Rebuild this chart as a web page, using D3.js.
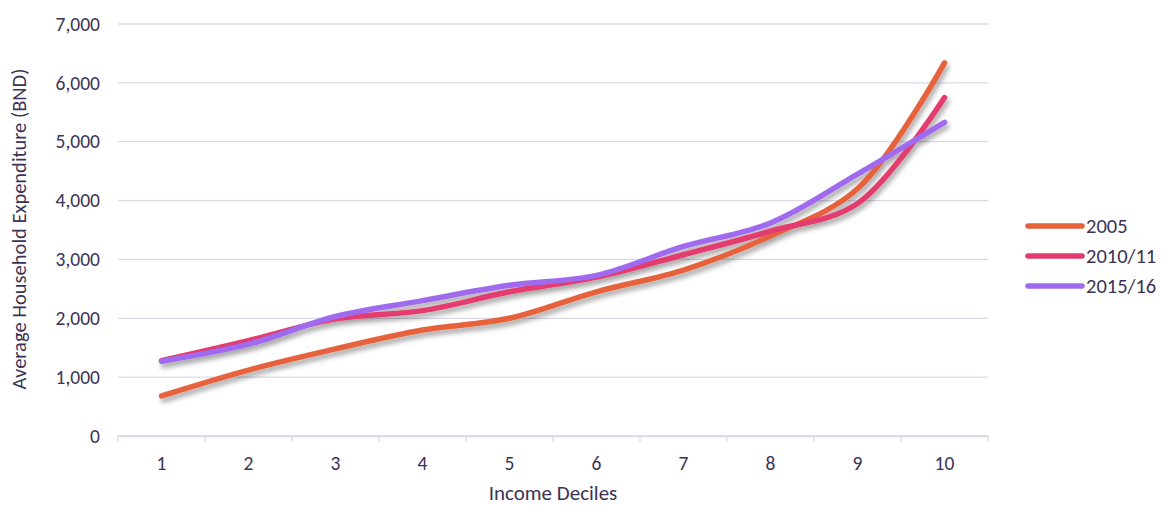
<!DOCTYPE html>
<html><head><meta charset="utf-8">
<script src="https://cdn.jsdelivr.net/npm/d3@7"></script>
<style>body{margin:0;background:#fff}svg{font-family:Carlito,Lato,"Open Sans",sans-serif}</style>
</head><body><svg id="c" width="1161" height="505"></svg>
<script>
const deciles = ["1","2","3","4","5","6","7","8","9","10"];
const s2005 = [680, 1120, 1480, 1800, 2000, 2450, 2820, 3400, 4200, 6340];
const s2010 = [1280, 1620, 1990, 2130, 2450, 2700, 3080, 3480, 3950, 5750];
const s2015 = [1270, 1560, 2030, 2300, 2560, 2730, 3220, 3620, 4450, 5330];
const seriesNames = ["2005", "2010/11", "2015/16"];
const colors = ["#E5623D", "#E23C6E", "#A06BEE"];
const yTicks = [0,1000,2000,3000,4000,5000,6000,7000];

const svg = d3.select("#c");
const L=118, R=988, T=24, B=436;
const x = d3.scaleBand().domain(deciles).range([L,R]);
const y = d3.scaleLinear().domain([0,7000]).range([B,T]);
const textColor = "#3b3355";
const FF = "Carlito, Lato, sans-serif";

const defs = svg.append("defs");
const f = defs.append("filter").attr("id","sh").attr("x","-10%").attr("y","-10%").attr("width","130%").attr("height","140%");
f.append("feDropShadow").attr("dx",2).attr("dy",4).attr("stdDeviation",2.5).attr("flood-color","#000").attr("flood-opacity",0.35);

// grid
svg.append("g").selectAll("line").data(yTicks).join("line")
  .attr("x1",L).attr("x2",R).attr("y1",d=>y(d)).attr("y2",d=>y(d))
  .attr("stroke","#dcd8e8").attr("stroke-width",1.3);

// y axis
const ya = svg.append("g").attr("transform",`translate(${L},0)`)
  .call(d3.axisLeft(y).tickValues(yTicks).tickFormat(d3.format(",")).tickSize(0).tickPadding(18))
  .attr("font-family",FF).attr("font-size",19.5);
ya.select(".domain").remove();
ya.selectAll("text").attr("fill",textColor);

// x axis
const xa = svg.append("g").attr("transform",`translate(0,${B})`)
  .call(d3.axisBottom(x).tickSize(0).tickPadding(20))
  .attr("font-family",FF).attr("font-size",19.5);
xa.select(".domain").attr("stroke","#dcd8e8").attr("stroke-width",1.3);
xa.selectAll("text").attr("fill",textColor);
const edges = deciles.map(d=>x(d)).concat([R]);
svg.append("g").selectAll("line").data(edges).join("line")
  .attr("x1",d=>d).attr("x2",d=>d).attr("y1",B).attr("y2",B+6)
  .attr("stroke","#dcd8e8").attr("stroke-width",1.3);

// lines
const data = [s2005, s2010, s2015];
const line = d3.line().x((d,i)=>x(deciles[i])+x.bandwidth()/2).y(d=>y(d)).curve(d3.curveCatmullRom.alpha(0.5));
svg.append("g").attr("filter","url(#sh)").selectAll("path").data(data).join("path")
  .attr("d",line).attr("fill","none").attr("stroke",(d,i)=>colors[i])
  .attr("stroke-width",5.5).attr("stroke-linecap","round").attr("stroke-linejoin","round");

// axis titles
svg.append("text").attr("x",553).attr("y",500).attr("text-anchor","middle")
  .attr("fill",textColor).style("font-size","21px").text("Income Deciles");
svg.append("text").attr("transform","translate(26,229) rotate(-90)").attr("text-anchor","middle")
  .attr("fill",textColor).style("font-size","20.5px").text("Average Household Expenditure (BND)");

// legend
const lg = svg.append("g").selectAll("g").data(seriesNames).join("g")
  .attr("transform",(d,i)=>`translate(1028,${226+i*30})`);
lg.append("line").attr("x1",0).attr("x2",54).attr("stroke",(d,i)=>colors[i])
  .attr("stroke-width",5.5).attr("stroke-linecap","round");
lg.append("text").attr("x",58).attr("y",7).attr("fill",textColor).style("font-size","20.5px").text(d=>d);
</script></body></html>
